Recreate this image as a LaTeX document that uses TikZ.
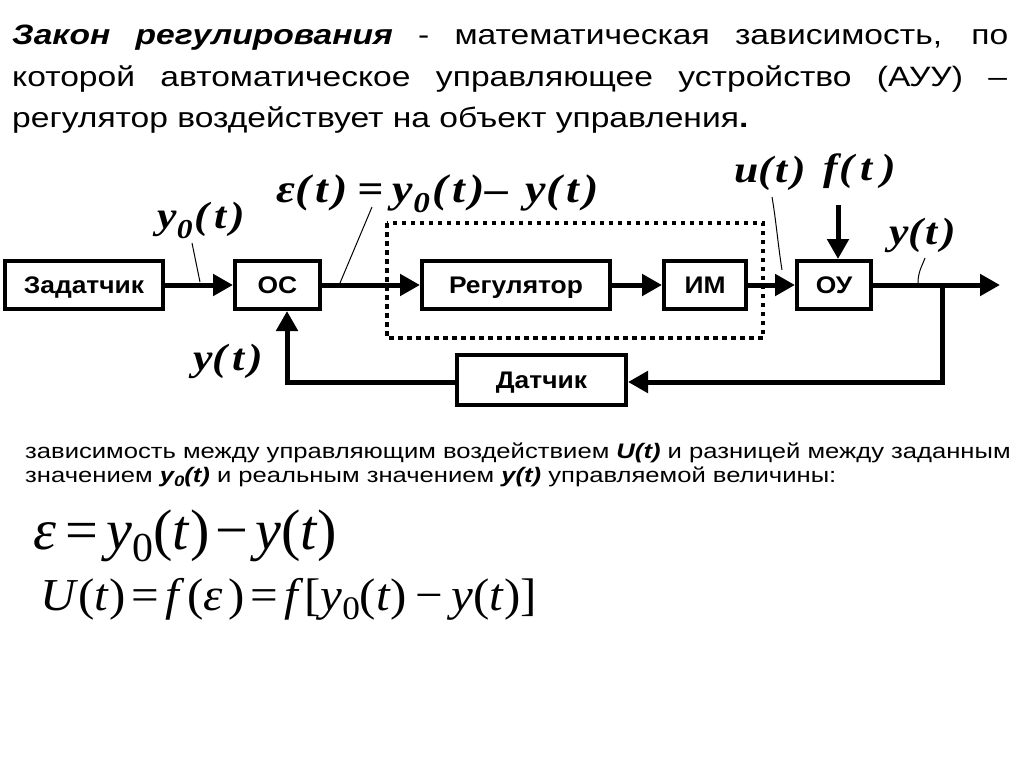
\documentclass[tikz,border=0pt]{standalone}
\usepackage{graphicx}
\usepackage{fontspec}
\setmainfont{Liberation Sans}
\newfontfamily\tnr{Liberation Serif}
\usetikzlibrary{arrows.meta}
\newcommand\dn[2][0.25em]{\raisebox{-#1}{\scalebox{0.72}{#2}}}
\newcommand\bx[1]{\scalebox{1.1}[1]{#1}}
\newcommand\hx[1]{\scalebox{1.2}[1]{#1}}
\newcommand\lx[1]{\scalebox{1.15}[1]{#1}}
\newcommand\rb[3]{\resizebox*{#1}{#2}{#3}}
\newcommand\hs[1]{\hspace{#1pt}}
\begin{document}
\begin{tikzpicture}[x=1pt,y=-1pt,
  blk/.style={draw,line width=4pt,minimum height=48pt,inner sep=0pt,
    text height=17pt,text depth=0pt,
    font=\fontsize{24}{24}\selectfont\bfseries},
  flow/.style={line width=5pt,-{Triangle[length=20pt,width=21pt]}},
  lbl/.style={inner sep=0pt,font=\tnr\bfseries\itshape\fontsize{38}{38}\selectfont},
  leader/.style={line width=1pt},
  ttl/.style={inner sep=0pt,anchor=base west,font=\fontsize{28}{28}\selectfont},
  txt/.style={inner sep=0pt,anchor=base west,font=\fontsize{21}{21}\selectfont},
  frm/.style={inner sep=0pt,anchor=north west,font=\tnr\fontsize{46}{46}\selectfont}]
\useasboundingbox (0,0) rectangle (1024,768);
% title
\node[ttl] (t1) at (12,45) {\hx{\makebox[830pt][s]{\textbf{\textit{Закон регулирования}} - математическая зависимость, по}}};
\node[ttl] (t2) at (12,86) {\hx{\makebox[829pt][s]{которой автоматическое управляющее устройство (АУУ) –}}};
\node[ttl] (t3) at (12,127) {\hx{регулятор воздействует на объект управления\textbf{.}}};
% blocks
\node[blk,minimum width=158pt] (zad) at (84,285) {\bx{Задатчик}};
\node[blk,minimum width=85pt] (os) at (277.5,285) {\bx{ОС}};
\node[blk,minimum width=188pt] (reg) at (516,285) {\bx{Регулятор}};
\node[blk,minimum width=82pt] (im) at (705,285) {\bx{ИМ}};
\node[blk,minimum width=74pt] (ou) at (834,285) {\bx{ОУ}};
\node[blk,minimum width=169pt,minimum height=50pt] (dat) at (541.5,380) {\bx{Датчик}};
% dotted frame
\draw[line width=4pt,dash pattern=on 4.5pt off 4.5pt] (387,223) rectangle (763,338);
% connections
\coordinate (out) at (1000,285);
\coordinate (br) at (942,285);
\coordinate (brd) at (942,382);
\coordinate (fb) at (287,382);
\coordinate (ftop) at (838,205);
\draw[flow] (zad) -- (os);
\draw[flow] (os) -- (reg);
\draw[flow] (reg) -- (im);
\draw[flow] (im) -- (ou);
\draw[flow] (ou) -- (out);
\draw[flow] (br) -- (brd) -- (brd -| dat.east);
\draw[flow] (fb -| dat.west) -- (fb) -- (fb |- os.south);
\draw[flow] (ftop) -- (ou.north -| ftop);
% labels
\node[lbl] (ly0) at (201.5,220.5) {\lx{y\dn{0}\hs{2}(\hs{4}t\hs{4})}};
\node[lbl,font=\tnr\bfseries\itshape\fontsize{40}{40}\selectfont] (leps) at (438,194)
  {\lx{ε(\hs{4}t\hs{4})\hs{8}=\hs{8}y\dn{0}\hs{2}(\hs{4}t\hs{4})\hs{1}–\hs{14}y\hs{1}(\hs{4}t\hs{4})}};
\node[lbl] (lu) at (770,173) {\lx{u(\hs{2}t\hs{3})}};
\node[lbl] (lf) at (860,171.5) {\lx{f\hs{1}(\hs{6}t\hs{8})}};
\node[lbl] (lyr) at (922.5,235) {\lx{y(\hs{2}t\hs{3})}};
\node[lbl] (lyl) at (228.5,361) {\lx{y(\hs{4}t\hs{4})}};
% leaders
\coordinate (a1) at (192,243); \coordinate (a2) at (200,282);
\coordinate (b1) at (372,207); \coordinate (b2) at (340,283);
\coordinate (c1) at (772,197); \coordinate (c2) at (782,270);
\coordinate (d1) at (925,258); \coordinate (d2) at (918,283);
\draw[leader] (a1) -- (a2);
\draw[leader] (b1) -- (b2);
\draw[leader] (c1) .. controls (776,220) and (778,245) .. (c2);
\draw[leader] (d1) .. controls (922,266) and (918,272) .. (d2);
% explanation
\node[txt] (e1) at (25,458) {\scalebox{1.22}[1]{зависимость между управляющим воздействием \textbf{\textit{U(t)}} и разницей между заданным}};
\node[txt] (e2) at (25,482) {\scalebox{1.22}[1]{значением \textbf{\textit{y\dn[0.2em]{0}(t)}} и реальным значением \textbf{\textit{y(t)}} управляемой величины:}};
% formulas
\node[frm] (f1) at (33,510) {\rb{304pt}{52pt}{\textit{ε}\hs{7}=\hs{7}\textit{y}\dn[0.2em]{0}(\textit{t})\hs{5}−\hs{5}\textit{y}(\textit{t})}};
\node[frm] (f2) at (40,578) {\rb{497pt}{42pt}{\textit{U}(\textit{t})\hs{6}=\hs{6}\textit{f}\hs{2}(\textit{ε}\hs{5})\hs{6}=\hs{6}\textit{f}[\textit{y}\dn[0.2em]{0}(\textit{t})\hs{8}−\hs{8}\textit{y}(\textit{t})]}};
\end{tikzpicture}
\end{document}
